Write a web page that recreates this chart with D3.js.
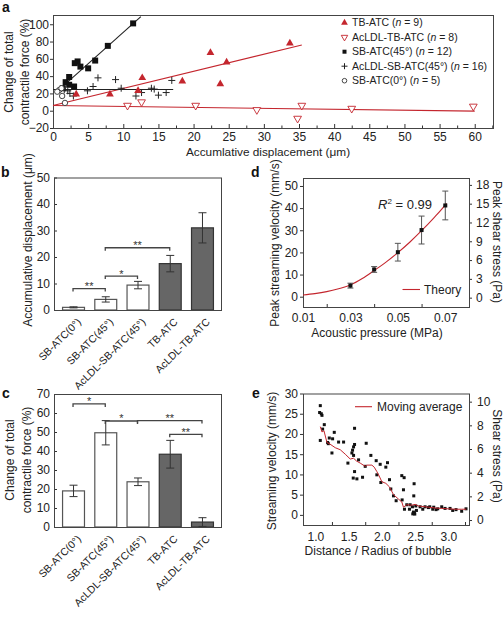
<!DOCTYPE html>
<html><head><meta charset="utf-8">
<script src="https://cdn.jsdelivr.net/npm/d3@7"></script>
<style>body{margin:0;background:#fff}</style>
</head><body>
<script>
// ---------------- DATA ----------------
// Panel a: [accumulative displacement (µm), change of total contractile force (%)]
const tbATC      = [[3.3,19],[8.1,19],[12.1,23],[12.7,38],[18.4,34],[22.4,67],[23.8,31],[24.7,56],[33.7,78]];
const acldlTbATC = [[10.6,6],[12.6,10],[20.3,6],[29.0,1],[34.8,-9],[35.4,6],[42.5,2.5],[59.8,5]];
const sbATC45    = [[11.4,101],[7.8,75],[6.0,58],[5.0,49],[3.9,51],[3.5,57],[3.1,55],[3.0,28],[2.3,39],[2.3,30],[1.8,33],[1.4,26]];
const acldlSb45  = [[6.4,38],[8.9,36],[5.7,28],[4.9,23],[9.7,26],[11.8,17],[12.6,21],[14.0,26],[14.4,25],[15.0,18],[16.1,21],[16.9,35],[2.4,20],[2.1,23],[2.9,17],[1.6,24]];
const sbATC0     = [[0.9,24],[1.2,26],[1.3,17],[1.7,9],[0.6,22]];
// fitted lines (endpoints)
const fitSb45    = [[0.4,21],[12.5,108.8]];
const fitAcSb45  = [[0,24.5],[17.1,24.5]];
const fitTb      = [[0,6],[35.4,76]];
const fitAcTb    = [[0,6],[60,-0.5]];
const aXTicks = [0,5,10,15,20,25,30,35,40,45,50,55,60];
const aYTicks = [-20,0,20,40,60,80,100];

// Panels b & c
const barCats   = ["SB-ATC(0°)","SB-ATC(45°)","AcLDL-SB-ATC(45°)","TB-ATC","AcLDL-TB-ATC"];
const barDark   = [false,false,false,true,true];
const dispMean  = [1.0,4.0,9.4,17.5,31.0];
const dispErr   = [0.2,1.0,1.4,3.1,5.7];
const forceMean = [19.0,49.6,23.8,38.3,2.6];
const forceErr  = [3.0,6.4,2.0,7.3,2.3];
const bSig = [{a:0,b:1,y:8.1,t:"**"},{a:1,b:2,y:12.8,t:"*"},{a:1,b:3,y:23.5,t:"**"}];
const cSig = [{a:0,b:1,y:64.8,t:"*"},{a:1,b:2,y:55.8,t:"*"},{a:2,b:4,y:56.0,t:"**"},{a:3,b:4,y:48.8,t:"**"}];
const bYTicks = [0,10,20,30,40,50];
const cYTicks = [0,10,20,30,40,50,60,70];

// Panel d
const pressure  = [0.03,0.04,0.05,0.06,0.07];
const peakVel   = [5.0,12.3,20.1,30.1,41.2];
const peakErr   = [1.1,1.3,4.0,6.3,6.5];
const theoryP   = [0.01,0.015,0.02,0.025,0.03,0.035,0.04,0.045,0.05,0.055,0.06,0.065,0.07,0.0705];
const theoryV   = [0.8,1.4,2.3,3.6,5.3,8.2,11.8,15.6,19.9,24.6,29.8,35.4,41.5,42.2];
const dXTicks = [0.01,0.03,0.05,0.07];
const dXMinor = [0.02,0.04,0.06];
const dYTicks = [0,10,20,30,40,50];
const dRTicks = [0,3,6,9,12,15,18];

// Panel e
const distR = [1.075,1.065,1.09,1.10,1.135,1.11,1.075,1.185,1.195,1.21,1.26,1.285,1.25,1.35,1.425,1.49,1.55,1.56,1.575,1.59,1.59,1.575,1.59,1.57,1.625,1.65,1.71,1.765,1.75,1.835,1.915,1.925,1.975,1.985,2.06,2.085,2.115,2.135,2.175,2.215,2.30,2.335,2.325,2.305,2.34,2.375,2.415,2.425,2.46,2.475,2.465,2.49,2.495,2.485,2.48,2.51,2.52,2.575,2.615,2.65,2.70,2.72,2.765,2.78,2.815,2.84,2.90,2.95,3.025,3.065,3.115,3.20,3.265];
const streamV = [27,25.3,25,24.6,22.3,21.2,18.4,17.9,17.6,19,18.8,20.4,15.3,18,18,12.8,15.3,16,16.8,17.4,21.4,14.7,10.7,9.1,8.9,13.6,9.3,17.7,12,14.7,13.4,9.9,12.5,8,11.8,12.9,8.7,6.4,4.7,3.5,9.7,9.2,6.2,3.7,1.4,2.5,1.4,2.5,2,0.7,0.25,0.4,0.2,7.7,4.7,2.2,1.1,2.0,1.4,2.0,1.8,2.0,1.4,1.9,1.3,1.5,2.0,1.6,1.6,1.1,1.3,0.9,1.5];
const maX = [1.075,1.10,1.13,1.175,1.22,1.30,1.375,1.45,1.525,1.575,1.62,1.675,1.75,1.775,1.85,1.885,1.925,1.96,2.0,2.06,2.115,2.175,2.25,2.30,2.325,2.35,2.375,2.45,2.5,2.55,2.6,2.7,2.8,2.9,3.0,3.1,3.2,3.27];
const maY = [21.8,20.5,20.8,17.9,17.5,16.6,16.1,15.0,13.8,14.0,13.3,12.8,12.0,12.3,12.3,11.8,10.7,9.6,8.2,7.8,6.9,5.0,3.9,3.2,1.9,2.2,2.5,2.4,2.6,2.2,2.1,1.9,1.7,1.6,1.5,1.4,1.4,1.4];
const eXTicks = [1.0,1.5,2.0,2.5,3.0];
const eXMinor = [1.25,1.75,2.25,2.75,3.25];
const eYTicks = [0,5,10,15,20,25,30];
const eRTicks = [0,2,4,6,8,10];

// ---------------- DRAWING ----------------
const FONT = "'Liberation Sans', Arial, Helvetica, sans-serif";
const RED = "#c4262e";
const INK = "#222";
const svg = d3.select("body").append("svg").attr("width",504).attr("height",620)
  .style("font-family",FONT).style("background","#fff");

function styleAxis(g, fs){
  g.select(".domain").remove();
  g.selectAll("line").attr("stroke","#333").attr("stroke-width",1);
  g.selectAll("text").attr("font-size",fs).attr("fill",INK).attr("font-family",FONT);
  return g;
}
function frame(x0,y0,x1,y1){
  svg.append("rect").attr("x",x0+0.5).attr("y",y0+0.5).attr("width",x1-x0).attr("height",y1-y0)
    .attr("fill","none").attr("stroke","#444").attr("stroke-width",1);
}
function label(txt,x,y){
  svg.append("text").attr("x",x).attr("y",y).text(txt).attr("font-size",14).attr("font-weight","bold").attr("fill","#111");
}
function vTitle(lines,x,y,fs,rot,gap){
  const t = svg.append("text").attr("transform",`translate(${x},${y}) rotate(${rot||-90})`)
    .attr("text-anchor","middle").attr("font-size",fs).attr("fill",INK);
  lines.forEach((l,i)=>t.append("tspan").attr("x",0).attr("dy",i===0?0:(gap||fs*1.3)).text(l));
  return t;
}

// ===== Panel a =====
{
  const x = d3.scaleLinear().domain([0,62.6]).range([53,493]);
  const y = d3.scaleLinear().domain([-20,110.7]).range([128,15]);
  const minor = aXTicks.map(v=>v+2.5).filter(v=>v<62.6);
  styleAxis(svg.append("g").attr("transform","translate(0,128)")
    .call(d3.axisBottom(x).tickValues(minor).tickSize(-2.5).tickFormat("")),12);
  styleAxis(svg.append("g").attr("transform","translate(0,128)")
    .call(d3.axisBottom(x).tickValues(aXTicks).tickSize(-4).tickPadding(4).tickFormat(d3.format("d"))),12);
  styleAxis(svg.append("g").attr("transform","translate(53,0)")
    .call(d3.axisLeft(y).tickValues(aYTicks).tickSize(3).tickPadding(1)),12);
  frame(53,15,493,128);

  const ln = d3.line().x(d=>x(d[0])).y(d=>y(d[1]));
  svg.append("path").attr("d",ln(fitTb)).attr("stroke",RED).attr("stroke-width",1.1).attr("fill","none");
  svg.append("path").attr("d",ln(fitAcTb)).attr("stroke",RED).attr("stroke-width",1.1).attr("fill","none");
  svg.append("path").attr("d",ln(fitAcSb45)).attr("stroke","#222").attr("stroke-width",1.1).attr("fill","none");
  svg.append("path").attr("d",ln(fitSb45)).attr("stroke","#222").attr("stroke-width",1.1).attr("fill","none");

  const tri = d3.symbol().type(d3.symbolTriangle).size(26);
  const sq = d3.symbol().type(d3.symbolSquare).size(36);
  const plus = "M-3.5,0H3.5M0,-3.5V3.5";
  svg.append("g").selectAll("path").data(sbATC45).join("path")
    .attr("d",sq()).attr("transform",d=>`translate(${x(d[0])},${y(d[1])})`).attr("fill","#111");
  svg.append("g").selectAll("path").data(acldlSb45).join("path")
    .attr("d",plus).attr("transform",d=>`translate(${x(d[0])},${y(d[1])})`).attr("stroke","#222").attr("stroke-width",1).attr("fill","none");
  svg.append("g").selectAll("circle").data(sbATC0).join("circle")
    .attr("cx",d=>x(d[0])).attr("cy",d=>y(d[1])).attr("r",2.7).attr("fill","#fff").attr("stroke","#333").attr("stroke-width",0.9);
  svg.append("g").selectAll("path").data(tbATC).join("path")
    .attr("d",tri()).attr("transform",d=>`translate(${x(d[0])},${y(d[1])})`).attr("fill",RED);
  svg.append("g").selectAll("path").data(acldlTbATC).join("path")
    .attr("d",tri()).attr("transform",d=>`translate(${x(d[0])},${y(d[1])}) rotate(180)`).attr("fill","#fff").attr("stroke",RED).attr("stroke-width",0.9);

  svg.append("text").attr("x",268).attr("y",156).attr("text-anchor","middle").attr("font-size",11.8).attr("fill",INK)
    .text("Accumlative displacement (μm)");
  vTitle(["Change of total","contractile force (%)"],12.5,72,12,-90,16.5);

  // legend
  const leg = [
    {mk:"tri", name:"TB-ATC", n:"9"},
    {mk:"tridown", name:"AcLDL-TB-ATC", n:"8"},
    {mk:"sq", name:"SB-ATC(45°)", n:"12"},
    {mk:"plus", name:"AcLDL-SB-ATC(45°)", n:"16"},
    {mk:"circ", name:"SB-ATC(0°)", n:"5"}];
  leg.forEach((L,i)=>{
    const yy = 22.7 + i*14.5, xx = 344.5;
    const g = svg.append("g").attr("transform",`translate(${xx},${yy})`);
    if(L.mk==="tri") g.append("path").attr("d",d3.symbol().type(d3.symbolTriangle).size(20)()).attr("fill",RED);
    if(L.mk==="tridown") g.append("path").attr("d",d3.symbol().type(d3.symbolTriangle).size(18)()).attr("transform","rotate(180)").attr("fill","#fff").attr("stroke",RED).attr("stroke-width",0.9);
    if(L.mk==="sq") g.append("path").attr("d",d3.symbol().type(d3.symbolSquare).size(16)()).attr("fill","#111");
    if(L.mk==="plus") g.append("path").attr("d","M-3,0H3M0,-3V3").attr("stroke","#222").attr("fill","none");
    if(L.mk==="circ") g.append("circle").attr("r",2.3).attr("fill","#fff").attr("stroke","#333").attr("stroke-width",0.9);
    const t = svg.append("text").attr("x",352).attr("y",yy+3.7).attr("font-size",10.5).attr("fill",INK);
    t.append("tspan").text(L.name+" (");
    t.append("tspan").attr("font-style","italic").text("n");
    t.append("tspan").text(" = "+L.n+")");
  });
  label("a",2,12);
}

// ===== Bar panels b & c =====
function barPanel(top,bottom,ymax,ticks,mean,err,sig,titleLines,titleX,titleY,gap){
  const x = d3.scaleBand().domain(barCats).range([54,221]).paddingInner(0.32).paddingOuter(0.25);
  const y = d3.scaleLinear().domain([0,ymax]).range([bottom,top]);
  styleAxis(svg.append("g").attr("transform","translate(54,0)")
    .call(d3.axisLeft(y).tickValues(ticks).tickSize(-3).tickPadding(4)),12);
  const bars = barCats.map((c,i)=>({c,m:mean[i],e:err[i],dark:barDark[i]}));
  svg.append("g").selectAll("rect").data(bars).join("rect")
    .attr("x",d=>x(d.c)+0.5).attr("width",x.bandwidth())
    .attr("y",d=>y(d.m)).attr("height",d=>bottom-y(d.m))
    .attr("fill",d=>d.dark?"#666":"#fff").attr("stroke",d=>d.dark?"#333":"#555").attr("stroke-width",1.2);
  const eg = svg.append("g").attr("stroke","#333").attr("stroke-width",1);
  bars.forEach(d=>{
    const cx = x(d.c)+x.bandwidth()/2+0.5;
    eg.append("line").attr("x1",cx).attr("x2",cx).attr("y1",y(d.m-d.e)).attr("y2",y(d.m+d.e));
    eg.append("line").attr("x1",cx-4).attr("x2",cx+4).attr("y1",y(d.m-d.e)).attr("y2",y(d.m-d.e));
    eg.append("line").attr("x1",cx-4).attr("x2",cx+4).attr("y1",y(d.m+d.e)).attr("y2",y(d.m+d.e));
  });
  frame(54,top,221,bottom);
  sig.forEach(s=>{
    const x1 = x(barCats[s.a])+x.bandwidth()/2, x2 = x(barCats[s.b])+x.bandwidth()/2, yy = y(s.y);
    svg.append("path").attr("d",`M${x1},${yy+3}V${yy}H${x2}V${yy+3}`).attr("fill","none").attr("stroke","#444").attr("stroke-width",1.3);
    svg.append("text").attr("x",(x1+x2)/2).attr("y",yy+1.5).attr("text-anchor","middle").attr("font-size",11).attr("fill","#333").text(s.t);
  });
  svg.append("g").selectAll("text").data(barCats).join("text")
    .attr("transform",d=>`translate(${x(d)+x.bandwidth()/2+6},${bottom+10}) rotate(-45)`)
    .attr("text-anchor","end").attr("font-size",10.5).attr("fill",INK).attr("dy","0.35em").text(d=>d);
  vTitle(titleLines,titleX,titleY,12,-90,gap);
}
barPanel(177.5,310,50,bYTicks,dispMean,dispErr,bSig,["Accumulative displacement (μm)"],32,240);
label("b",1,177);
barPanel(394,527,70,cYTicks,forceMean,forceErr,cSig,["Change of total","contractile force (%)"],14,460,17);
label("c",2,398);

// ===== Panel d =====
{
  const x = d3.scaleLinear().domain([0.01,0.08]).range([303,469]);
  const y = d3.scaleLinear().domain([-4.65,53.6]).range([307,178]);
  const yr = d3.scaleLinear().domain([-1.49,19.1]).range([307,178]);
  styleAxis(svg.append("g").attr("transform","translate(0,307)")
    .call(d3.axisBottom(x).tickValues(dXMinor).tickSize(-3).tickFormat("")),12);
  styleAxis(svg.append("g").attr("transform","translate(0,307)")
    .call(d3.axisBottom(x).tickValues(dXTicks).tickSize(0).tickPadding(6).tickFormat(d3.format(".2f"))),12);
  styleAxis(svg.append("g").attr("transform","translate(303,0)")
    .call(d3.axisLeft(y).tickValues(dYTicks).tickSize(3).tickPadding(2)),12);
  styleAxis(svg.append("g").attr("transform","translate(469,0)")
    .call(d3.axisRight(yr).tickValues(dRTicks).tickSize(3).tickPadding(4)),12);
  frame(303,178,469,307);
  const line = d3.line().x((d,i)=>x(theoryP[i])).y(d=>y(d)).curve(d3.curveMonotoneX);
  svg.append("path").attr("d",line(theoryV)).attr("fill","none").attr("stroke",RED).attr("stroke-width",1.1);
  const eg = svg.append("g").attr("stroke","#555").attr("stroke-width",1);
  pressure.forEach((p,i)=>{
    const cx = x(p);
    eg.append("line").attr("x1",cx).attr("x2",cx).attr("y1",y(peakVel[i]-peakErr[i])).attr("y2",y(peakVel[i]+peakErr[i]));
    eg.append("line").attr("x1",cx-3).attr("x2",cx+3).attr("y1",y(peakVel[i]-peakErr[i])).attr("y2",y(peakVel[i]-peakErr[i]));
    eg.append("line").attr("x1",cx-3).attr("x2",cx+3).attr("y1",y(peakVel[i]+peakErr[i])).attr("y2",y(peakVel[i]+peakErr[i]));
  });
  svg.append("g").selectAll("rect").data(pressure).join("rect")
    .attr("x",(d)=>x(d)-2).attr("y",(d,i)=>y(peakVel[i])-2).attr("width",4).attr("height",4).attr("fill","#111");
  const r2 = svg.append("text").attr("x",378).attr("y",209).attr("font-size",13).attr("fill",INK);
  r2.append("tspan").attr("font-style","italic").text("R");
  r2.append("tspan").attr("font-size",8).attr("dy",-5.5).text("2");
  r2.append("tspan").attr("dy",5.5).text(" = 0.99");
  svg.append("line").attr("x1",402.5).attr("x2",420).attr("y1",289.5).attr("y2",289.5).attr("stroke",RED).attr("stroke-width",1.1);
  svg.append("text").attr("x",424).attr("y",293.7).attr("font-size",12).attr("fill",INK).text("Theory");
  svg.append("text").attr("x",377).attr("y",337).attr("text-anchor","middle").attr("font-size",12).attr("fill",INK).text("Acoustic pressure (MPa)");
  vTitle(["Peak streaming velocity (mm/s)"],279,243,12);
  vTitle(["Peak shear stress (Pa)"],492.5,242,12,90);
  label("d",251,177);
}

// ===== Panel e =====
{
  const x = d3.scaleLinear().domain([0.815,3.31]).range([303,469]);
  const y = d3.scaleLinear().domain([-2.5,30]).range([525,393.5]);
  const yr = d3.scaleLinear().domain([-0.42,10.69]).range([525,393.5]);
  styleAxis(svg.append("g").attr("transform","translate(0,525)")
    .call(d3.axisBottom(x).tickValues(eXMinor.filter(v=>v<3.31)).tickSize(-3).tickFormat("")),12);
  styleAxis(svg.append("g").attr("transform","translate(0,525)")
    .call(d3.axisBottom(x).tickValues(eXTicks).tickSize(0).tickPadding(7).tickFormat(d3.format(".1f"))),12);
  styleAxis(svg.append("g").attr("transform","translate(303,0)")
    .call(d3.axisLeft(y).tickValues(eYTicks).tickSize(3).tickPadding(2)),12);
  styleAxis(svg.append("g").attr("transform","translate(469,0)")
    .call(d3.axisRight(yr).tickValues(eRTicks).tickSize(3).tickPadding(5)),12);
  frame(303,393.5,469,525);
  svg.append("g").selectAll("rect").data(distR).join("rect")
    .attr("x",d=>x(d)-1.5).attr("y",(d,i)=>y(streamV[i])-1.5).attr("width",3).attr("height",3).attr("fill","#111");
  const line = d3.line().x((d,i)=>x(maX[i])).y(d=>y(d));
  svg.append("path").attr("d",line(maY)).attr("fill","none").attr("stroke",RED).attr("stroke-width",1);
  svg.append("line").attr("x1",355).attr("x2",372).attr("y1",406.7).attr("y2",406.7).attr("stroke",RED).attr("stroke-width",1.1);
  svg.append("text").attr("x",377).attr("y",411).attr("font-size",12).attr("fill",INK).text("Moving average");
  svg.append("text").attr("x",378).attr("y",555).attr("text-anchor","middle").attr("font-size",12).attr("fill",INK).text("Distance / Radius of bubble");
  vTitle(["Streaming velocity (mm/s)"],276,461,12);
  vTitle(["Shear stress (Pa)"],492.5,456,12,90);
  label("e",252,398);
}
</script>
</body></html>
